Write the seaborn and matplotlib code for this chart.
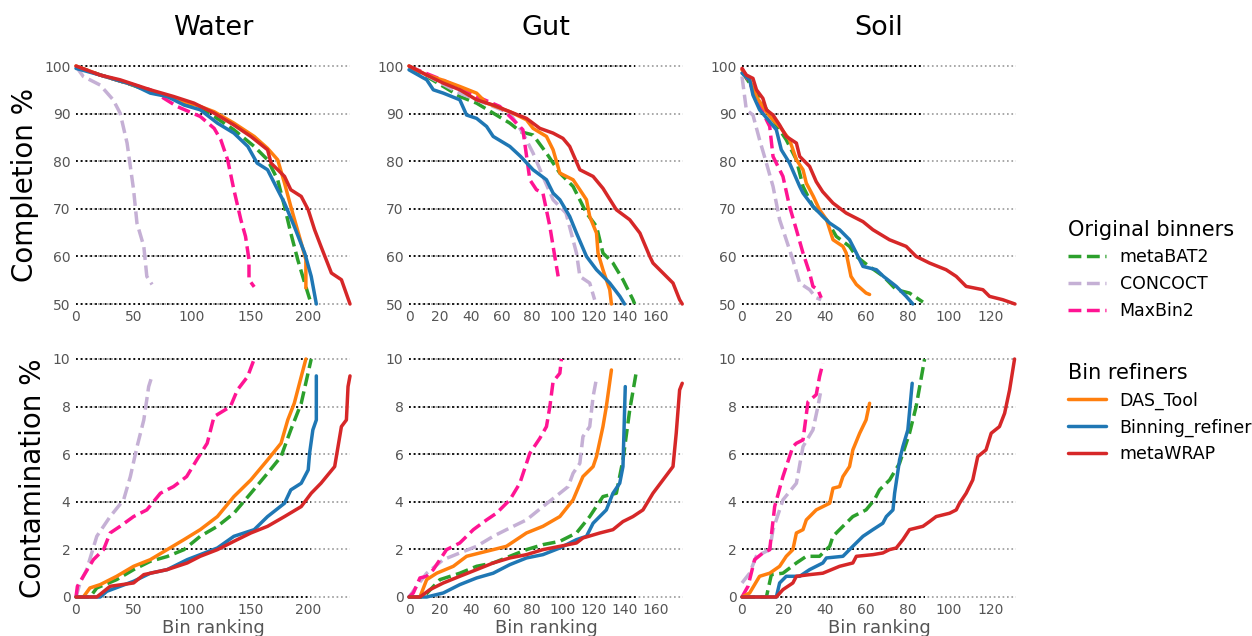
import matplotlib
matplotlib.use("Agg")
import matplotlib.pyplot as plt
import pandas as pd
import seaborn as sns
from matplotlib.lines import Line2D

sns.set_theme(style="white")
plt.rcParams["font.family"] = ["DejaVu Sans"]
plt.rcParams["text.color"] = "black"
plt.rcParams["axes.labelcolor"] = "black"

samples = ["Water", "Gut", "Soil"]
metrics = ["Completion %", "Contamination %"]
tools = ["metaBAT2", "CONCOCT", "MaxBin2", "DAS_Tool", "Binning_refiner", "metaWRAP"]
tool_colors = ["#2ca02c", "#c5b0d5", "#ff1493", "#ff7f0e", "#1f77b4", "#d62728"]
tool_dashed = [True, True, True, False, False, False]
x_max = [236, 178, 132.5]
x_ticks = [[0, 50, 100, 150, 200], [0, 20, 40, 60, 80, 100, 120, 140, 160], [0, 20, 40, 60, 80, 100, 120]]
comp_ticks = [50, 60, 70, 80, 90, 100]
cont_ticks = [0, 2, 4, 6, 8, 10]

# ---- Water: (bin rank, completion %) ----
water_comp_metaBAT2 = [(0, 99.9), (20, 98.2), (45, 96.3), (60, 95), (78.5, 93.6), (107, 91.1), (119, 89.4), (136, 86.6),
                       (153.5, 83.1), (165, 80.3), (173.7, 76.1), (179.6, 70.5), (185, 64.9), (191, 59.3), (197, 54.4), (202.6, 50)]
water_comp_CONCOCT = [(0, 99.9), (6.3, 97.8), (20.8, 96), (32, 92.9), (38, 90.1), (44, 83.8), (49.6, 74), (52.5, 67),
                      (58.4, 62.1), (61, 55.8), (65.5, 54.1)]
water_comp_MaxBin2 = [(0, 99.9), (20.8, 98.1), (64, 95), (87, 91.5), (107, 89.4), (119, 86.9), (124.7, 84.5), (130.6, 80.3),
                      (136, 74), (142, 67.7), (146, 64.2), (149, 59.3), (149, 55.1), (153.5, 53.6)]
water_comp_DAS_Tool = [(0, 100), (20.8, 98.1), (49.6, 96), (78.5, 93.6), (107, 91.5), (119, 90.4), (136, 88), (153.5, 85.2),
                       (165, 82.7), (173.7, 80.3), (179.6, 75.4), (185, 70.5), (194, 62.8), (198, 59.3), (198, 53.4)]
water_comp_Binning_refiner = [(0, 99.5), (20.8, 98.1), (49.6, 96), (64, 94.3), (78.5, 93.6), (93, 91.8), (107, 90.8),
                              (121.8, 88), (136, 85.9), (148, 83.1), (156, 79.6), (165, 78.2), (173.7, 74), (179.6, 71.2),
                              (188, 66.3), (197, 60.7), (202.6, 55.8), (207, 50)]
water_comp_metaWRAP = [(0, 100), (20.8, 98.1), (38, 97.1), (64, 95), (84, 93.6), (101.6, 92.2), (119, 90.1), (136, 87.6),
                       (150.6, 85.2), (165, 82.4), (168, 79.6), (179.6, 76.8), (185, 74), (194, 72.6), (200, 69.8),
                       (205.5, 65.6), (211, 62.1), (220, 56.5), (228.6, 55.1), (236, 50)]

# ---- Water: (bin rank, contamination %) ----
water_cont_metaBAT2 = [(0, 0), (12.1, 0), (17.9, 0.38), (35, 0.73), (49.6, 1.15), (64, 1.5), (78.5, 1.7), (93, 1.99),
                       (107, 2.55), (121.8, 2.97), (136, 3.52), (150.6, 4.36), (165, 5.2), (176.6, 5.9), (185, 7.02),
                       (194, 8.14), (202.6, 10)]
water_cont_CONCOCT = [(0, 0), (3.5, 0.59), (9.2, 1.15), (17.9, 2.55), (29.4, 3.38), (41, 4.08), (46.8, 5.06), (52.5, 6.3),
                      (58.4, 7.44), (62.6, 8.84), (64.6, 9.15)]
water_cont_MaxBin2 = [(0, 0), (1.2, 0.45), (6.3, 0.87), (15, 1.57), (23.7, 1.99), (29.4, 2.69), (38, 2.97), (49.6, 3.38),
                      (61, 3.66), (72.7, 4.36), (84, 4.64), (95.3, 5.06), (104, 5.76), (113, 6.46), (118.9, 7.58),
                      (133, 8), (139, 8.7), (147.8, 9.26), (153.5, 10)]
water_cont_DAS_Tool = [(0, 0), (6.3, 0), (12, 0.38), (20.8, 0.52), (35, 0.87), (49.6, 1.29), (64, 1.57), (78.5, 1.99),
                       (93, 2.41), (107, 2.83), (121.8, 3.38), (136, 4.22), (150.6, 4.92), (165, 5.76), (176.6, 6.46),
                       (182.4, 7.44), (188, 8.14), (194, 9.26), (198, 10)]
water_cont_Binning_refiner = [(0, 0), (20.8, 0), (26.6, 0.24), (49.6, 0.66), (64, 1.0), (78.5, 1.15), (95.8, 1.57),
                              (107, 1.78), (121.8, 2.06), (136, 2.55), (153.5, 2.83), (165, 3.38), (179.6, 3.94), (185, 4.5),
                              (194, 4.78), (200, 5.34), (201.2, 6.04), (204, 7.02), (207, 7.44), (207, 9.29)]
water_cont_metaWRAP = [(0, 0), (17.9, 0), (29.4, 0.45), (49.6, 0.59), (58.4, 0.94), (78.5, 1.15), (95.8, 1.43), (107, 1.71),
                       (121.8, 1.99), (136, 2.34), (150.6, 2.69), (165, 2.97), (179.6, 3.38), (194, 3.8), (202.6, 4.36),
                       (211, 4.78), (222.8, 5.48), (225.7, 6.32), (228.6, 7.16), (232.9, 7.44), (234.3, 8.84), (236, 9.29)]

# ---- Gut: (bin rank, completion %) ----
gut_comp_metaBAT2 = [(0, 99.5), (11.5, 97.8), (22.3, 95.7), (33, 93.6), (43.9, 92.2), (54.7, 90.1), (65.5, 88), (72.5, 86.2),
                     (80.6, 85.5), (89.3, 81.7), (98, 77.5), (106.6, 74.7), (115.3, 69.1), (121.8, 66.3), (126, 60.7),
                     (132.5, 58.6), (139, 55.1), (145.5, 50.9), (146.6, 50)]
gut_comp_CONCOCT = [(0, 100), (33, 94.3), (54.7, 91.5), (65.5, 90.1), (74, 85.9), (80.6, 81.7), (87, 76.8), (93.6, 71.9),
                    (102, 69.1), (108.8, 60.7), (111, 55.8), (117.4, 54.4), (120.6, 50.9)]
gut_comp_MaxBin2 = [(0, 99.9), (22.3, 97), (43.9, 93.6), (59, 91.5), (67.7, 88.7), (74, 86.6), (78.5, 76.1), (82.8, 74),
                    (87, 73.3), (91.5, 66.3), (94.7, 60), (96.9, 55.8)]
gut_comp_DAS_Tool = [(0, 100), (11.5, 98.1), (22.3, 97), (33, 95.7), (43.9, 94.3), (50.4, 92.2), (65.5, 90.4), (76.3, 88.7),
                     (80.6, 86.9), (89.3, 85.2), (93.6, 82.4), (98, 77.5), (106.6, 76.1), (111, 74), (115.3, 71.9),
                     (117.4, 68.4), (121.8, 64.9), (122.8, 60.7), (126, 57.2), (130.4, 53), (131.5, 50)]
gut_comp_Binning_refiner = [(0, 99.2), (11.5, 97.1), (15.8, 95), (22.3, 94.3), (33, 92.9), (37.4, 89.7), (43.9, 89),
                            (50.4, 87.3), (54.7, 85.2), (65.5, 83.1), (72.5, 81), (80.6, 78.2), (89.3, 76.1), (93.6, 73.3),
                            (98, 71.9), (104.4, 68.4), (108.8, 64.9), (115.3, 60), (121.8, 57.2), (130.4, 54.4),
                            (137, 51.6), (140, 50)]
gut_comp_metaWRAP = [(0, 100), (11.5, 98.1), (22.3, 96.4), (33, 95), (43.9, 92.9), (54.7, 91.8), (65.5, 90.4), (76.3, 89),
                     (85, 86.9), (93.6, 85.9), (100, 84.8), (104.4, 83.1), (111, 78.2), (119.6, 76.8), (126, 74.3),
                     (134.7, 69.8), (143.4, 67.7), (150, 64.9), (156.4, 60), (158.5, 58.6), (165, 56.5), (171.5, 54.4),
                     (175.8, 50.9), (177.5, 50)]

# ---- Gut: (bin rank, contamination %) ----
gut_cont_metaBAT2 = [(0, 0), (9.3, 0), (20.1, 0.73), (33, 1.0), (43.9, 1.29), (54.7, 1.43), (65.5, 1.71), (76.3, 1.99),
                     (87, 2.2), (98, 2.34), (108.8, 2.69), (117.4, 3.38), (126, 4.22), (134.7, 4.36), (139, 5.76),
                     (143.4, 7.86), (147.7, 9.47)]
gut_cont_CONCOCT = [(0, 0), (5, 0.45), (11.5, 1.0), (22.3, 1.57), (33, 1.85), (43.9, 2.13), (54.7, 2.55), (65.5, 2.9),
                    (76.3, 3.24), (87, 3.8), (98, 4.36), (103.4, 4.64), (106.6, 5.2), (111, 5.62), (113, 6.74),
                    (117.4, 7.16), (119.6, 8.42), (121.7, 9.15)]
gut_cont_MaxBin2 = [(0, 0), (2.8, 0.17), (7.1, 0.8), (11.5, 0.87), (15.8, 1.15), (24.4, 1.99), (33, 2.27), (41.8, 2.83),
                    (50.4, 3.24), (56.8, 3.52), (65.5, 4.08), (72, 4.78), (78.5, 6.04), (85, 6.67), (89.3, 7.16),
                    (91.5, 8), (93.6, 9.05), (98, 9.4), (99, 10)]
gut_cont_DAS_Tool = [(0, 0), (7.1, 0), (11.5, 0.73), (18, 1.0), (28.8, 1.29), (37.4, 1.71), (46, 1.85), (54.7, 1.99),
                     (63.3, 2.13), (76.3, 2.69), (87, 2.97), (98, 3.38), (106.6, 4.08), (113, 5.06), (119.6, 5.48),
                     (121.8, 5.9), (126, 7.16), (128.2, 8), (131.5, 9.54)]
gut_cont_Binning_refiner = [(0, 0), (11.5, 0), (22.3, 0.17), (33, 0.52), (43.9, 0.8), (54.7, 1.0), (65.5, 1.36),
                            (76.3, 1.64), (87, 1.78), (98, 2.06), (108.8, 2.41), (115.3, 2.55), (119.6, 3.1), (128.2, 3.66),
                            (132.5, 4.36), (136.9, 4.78), (139, 5.48), (140.5, 8.84)]
gut_cont_metaWRAP = [(0, 0), (7.1, 0), (13.6, 0.31), (22.3, 0.59), (33, 0.87), (43.9, 1.15), (54.7, 1.43), (65.5, 1.64),
                     (76.3, 1.78), (87, 1.99), (98, 2.13), (108.8, 2.27), (113, 2.48), (124, 2.69), (132.5, 2.83),
                     (139, 3.17), (145.5, 3.38), (152, 3.66), (158.5, 4.36), (165, 4.92), (171.5, 5.48), (173.6, 6.88),
                     (175.8, 8.7), (177.5, 8.98)]

# ---- Soil: (bin rank, completion %) ----
soil_comp_metaBAT2 = [(0, 98.8), (6.9, 94.3), (15, 88.7), (21.4, 84.5), (26.3, 80.3), (29.5, 74.7), (34.3, 70.5),
                      (40.9, 67.7), (45.6, 64.2), (52, 62.1), (55.3, 60), (61.5, 57.9), (68.4, 55.8), (74.6, 53),
                      (81, 52.3), (87.5, 50.4)]
soil_comp_CONCOCT = [(0, 97.8), (2.1, 90.8), (5.3, 89.7), (8.5, 84.5), (11.8, 79.6), (15, 74.7), (18.2, 67.7), (21.4, 63.5),
                     (24.6, 59.3), (27.9, 54.4), (32.7, 53), (35.9, 51.3), (38.3, 50.9)]
soil_comp_MaxBin2 = [(0, 99.5), (3.7, 96.4), (7, 93.6), (11.8, 88.7), (13.4, 87.3), (15, 81), (19.8, 76.8), (23, 70.5),
                     (26.3, 65.6), (29.5, 60.7), (32.7, 56.5), (34.3, 53.7), (36.7, 53), (38.3, 51.3)]
soil_comp_DAS_Tool = [(0, 99.2), (3.7, 97.1), (6.9, 93.6), (13.4, 89.4), (18.2, 87.3), (23, 84.5), (26.3, 80.3),
                      (29.5, 78.2), (31.1, 75.4), (34.5, 72.6), (37.5, 69.8), (40.9, 67.7), (44, 63.5), (48.8, 62.1),
                      (50.4, 60.7), (52.7, 55.8), (55.3, 54.1), (60, 52.3), (61.7, 52)]
soil_comp_Binning_refiner = [(0, 98.5), (3.7, 97.1), (5.3, 93.9), (8.5, 90.8), (13.4, 88.3), (16.6, 86.6), (19, 82.4),
                             (23, 79.6), (27.9, 74.7), (29.5, 73.3), (34.3, 70.5), (39.1, 68.4), (42.4, 67), (47.2, 65.6),
                             (52, 63.5), (55.3, 60.7), (58.5, 57.9), (65, 57.2), (68.4, 55.8), (74.6, 53.7), (79.4, 51.6),
                             (82.6, 50)]
soil_comp_metaWRAP = [(0, 99.5), (2.1, 98.1), (5.3, 97.4), (7, 95), (10.1, 93.2), (11.8, 90.8), (15, 89.7), (18.2, 87.6),
                      (21.4, 85.2), (26.3, 83.8), (27.9, 81), (32.7, 78.9), (35.9, 75.7), (39, 73.6), (44, 71.2),
                      (50.4, 69.1), (58.5, 67.3), (63.3, 65.6), (71.3, 63.5), (79.4, 62.1), (84.2, 60), (90.7, 58.6),
                      (98.7, 57.2), (103.6, 55.8), (108.4, 53.7), (116.5, 53), (119.7, 51.6), (126.1, 50.9), (132, 50)]

# ---- Soil: (bin rank, contamination %) ----
soil_cont_metaBAT2 = [(0, 0), (11.8, 0), (14.2, 0.94), (19.8, 1.0), (26.3, 1.43), (31.1, 1.71), (37.5, 1.71), (42.4, 2.13),
                      (44, 2.55), (48.8, 2.97), (53.6, 3.38), (60, 3.66), (64, 4.08), (66.5, 4.5), (71.4, 4.92),
                      (76.2, 5.62), (81, 6.88), (84.2, 8.0), (88.3, 10)]
soil_cont_CONCOCT = [(0, 0.59), (3.7, 1.0), (6.9, 1.71), (13.4, 1.99), (15, 2.83), (19.8, 4.08), (26.3, 4.78), (29.5, 6.32),
                     (34.3, 7.02), (36.7, 8.0), (37.9, 8.56)]
soil_cont_MaxBin2 = [(0, 0), (2.9, 0.45), (6.1, 1.57), (10.1, 1.85), (13.4, 1.99), (15.8, 3.8), (19.8, 5.06), (24.6, 6.32),
                     (26.3, 6.46), (29.5, 6.6), (31.9, 8.2), (35.9, 8.5), (37.5, 9.26), (39.1, 9.82)]
soil_cont_DAS_Tool = [(0, 0), (3.7, 0.17), (8.5, 0.87), (13.4, 1.0), (18.2, 1.29), (21.4, 1.71), (24.6, 1.99), (26.3, 2.69),
                      (29.5, 2.83), (31.1, 3.24), (35.9, 3.66), (42.4, 3.94), (44, 4.57), (47.2, 4.64), (48.8, 5.06),
                      (52, 5.48), (53.6, 6.18), (56.9, 6.88), (60, 7.44), (61.7, 8.14)]
soil_cont_Binning_refiner = [(0, 0), (16.6, 0), (18.2, 0.59), (21.4, 0.87), (27.9, 0.87), (32.7, 1.15), (39.1, 1.43),
                             (40.8, 1.64), (48.8, 1.71), (53.6, 2.13), (58.5, 2.55), (63.3, 2.83), (68.1, 3.1), (69.8, 3.38),
                             (73, 3.66), (73.8, 4.36), (76.2, 5.76), (77.8, 6.32), (80.2, 7.02), (82.3, 8.98)]
soil_cont_metaWRAP = [(0, 0), (16.6, 0), (19.8, 0.31), (24.6, 0.59), (26.3, 0.87), (32.7, 0.94), (39.1, 1.0), (47.2, 1.29),
                      (53.6, 1.43), (55.3, 1.71), (63.3, 1.78), (68.1, 1.85), (71.3, 1.99), (74.6, 2.06), (77.8, 2.41),
                      (81, 2.83), (87.5, 2.97), (90.7, 3.17), (93.9, 3.38), (100.4, 3.52), (103.6, 3.66), (105.2, 3.94),
                      (108.4, 4.36), (111.6, 4.92), (114, 5.9), (118, 6.18), (120.5, 6.88), (124.5, 7.16), (127, 7.72),
                      (129.4, 8.7), (131.8, 10)]

# ---- assemble a long table ----
rows = []
for sample in samples:
    for metric, key in zip(metrics, ["comp", "cont"]):
        for tool in tools:
            pts = globals()[f"{sample.lower()}_{key}_{tool}"]
            for order, (rank, value) in enumerate(pts):
                rows.append(dict(sample=sample, metric=metric, tool=tool, order=order, rank=rank, value=value))
df = pd.DataFrame(rows)

fig = plt.figure(figsize=(12.52, 6.36), dpi=100)
W, H = 1252, 636
lefts = [76, 409, 742]
ax_w = 274
tops = [66, 359]
ax_h = 238
grey = "#555555"

for j, sample in enumerate(samples):
    for i, metric in enumerate(metrics):
        ax = fig.add_axes([lefts[j] / W, 1 - (tops[i] + ax_h) / H, ax_w / W, ax_h / H])
        sub = df[(df["sample"] == sample) & (df["metric"] == metric)]
        yt = comp_ticks if i == 0 else cont_ticks
        ax.set_xlim(0, x_max[j])
        ax.set_ylim(yt[0], yt[-1])
        end = sub[sub["tool"] == "metaBAT2"]["rank"].max()
        ax.hlines(yt, 0, x_max[j], colors="#999999", linestyles=":", lw=1.2, zorder=0, clip_on=False)
        ax.hlines(yt, 0, end, colors="black", linestyles=":", lw=1.3, zorder=0.5, clip_on=False)
        for tool, col, dashed in zip(tools, tool_colors, tool_dashed):
            s = sub[sub["tool"] == tool].sort_values("order")
            sns.lineplot(data=s, x="rank", y="value", ax=ax, color=col, lw=2.5, sort=False,
                         estimator=None, legend=False, linestyle="--" if dashed else "-", clip_on=False)
        ax.set_yticks(yt)
        ax.set_xticks(x_ticks[j])
        ax.tick_params(axis="both", length=0, labelsize=10, labelcolor=grey, pad=4)
        for sp in ax.spines.values():
            sp.set_visible(False)
        ax.grid(False)
        if j == 0:
            ax.set_ylabel(metric, fontsize=20, color="black", labelpad=4)
        else:
            ax.set_ylabel("")
        if i == 1:
            ax.set_xlabel("Bin ranking", fontsize=13, color=grey, labelpad=2)
        else:
            ax.set_xlabel("")
            ax.set_title(sample, fontsize=19.5, pad=22, color="black")

h1 = [Line2D([], [], color=c, lw=2.5, ls="--") for c in tool_colors[:3]]
h2 = [Line2D([], [], color=c, lw=2.5, ls="-") for c in tool_colors[3:]]
leg1 = fig.legend(h1, tools[:3], title="Original binners", loc="upper left", bbox_to_anchor=(1052 / W, 1 - 204 / H),
                  frameon=False, fontsize=12.5, title_fontsize=15, handlelength=2.2, alignment="left",
                  labelspacing=0.5, labelcolor="black")
leg2 = fig.legend(h2, tools[3:], title="Bin refiners", loc="upper left", bbox_to_anchor=(1052 / W, 1 - 347 / H),
                  frameon=False, fontsize=12.5, title_fontsize=15, handlelength=2.2, alignment="left",
                  labelspacing=0.5, labelcolor="black")
for lg in (leg1, leg2):
    lg.get_title().set_color("black")

fig.savefig("out.png", dpi=100)
